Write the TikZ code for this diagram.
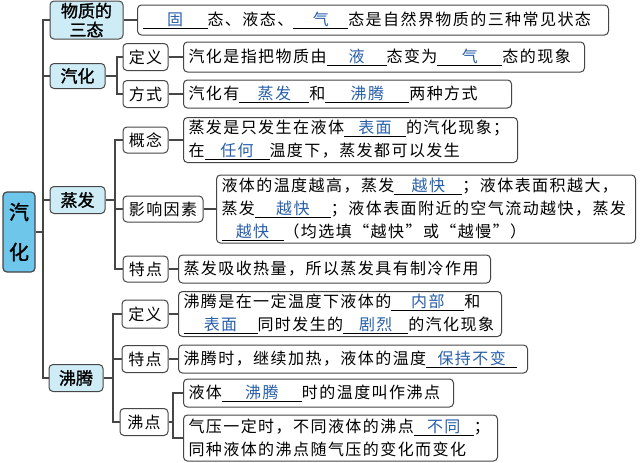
\documentclass[tikz,border=0pt]{standalone}
\usepackage{fontspec}
\newfontfamily\cjk[LetterSpace=9]{Noto Sans CJK SC}
\newfontfamily\cjkbf[FakeBold=1.5]{Noto Sans CJK SC}
\definecolor{boxline}{RGB}{70,70,70}
\definecolor{lvlone}{RGB}{205,236,246}
\definecolor{rootblue}{RGB}{110,198,235}
\definecolor{ansblue}{RGB}{40,95,170}
\newcommand\blank[2]{\leavevmode\mbox{\rlap{\rule[-3.5pt]{#1}{0.7pt}}\makebox[#1]{\color{ansblue}#2}}}

\begin{document}
\begin{tikzpicture}[x=1pt, y=-1pt,
  box/.style={draw=boxline, rounded corners=4pt, line width=1pt, inner sep=0pt},
  root/.style={box, fill=rootblue, line width=1.2pt, align=center,
               font=\cjkbf\fontsize{20}{40}\selectfont},
  lone/.style={box, fill=lvlone, align=center,
               font=\cjkbf\fontsize{17}{19}\selectfont},
  tag/.style={box, fill=white, font=\cjk\fontsize{16}{20}\selectfont},
  note/.style={box, fill=white, anchor=west, inner xsep=5pt, align=left,
               text width=#1, font=\cjk\fontsize{16}{23}\selectfont},
  link/.style={draw=boxline, line width=1.1pt}
]
\useasboundingbox (0,0) rectangle (640,463);

\node[root, minimum width=32pt, minimum height=80pt] (root) at (19,232) {汽\\化};
\coordinate (trunk) at (43,232);

\node[lone, minimum width=73pt, minimum height=38pt] (sw) at (86.5,20) {物质的\\三态};
\node[lone, minimum width=55pt, minimum height=25pt] (qh) at (77.5,76) {汽化};
\node[lone, minimum width=55pt, minimum height=27pt] (zf) at (77.5,200) {蒸发};
\node[lone, minimum width=54pt, minimum height=27pt] (ft) at (76,378) {沸腾};

\draw[link] (root) -- (trunk);
\draw[link] (trunk) |- (sw);
\draw[link] (trunk) |- (qh);
\draw[link] (trunk) |- (zf);
\draw[link] (trunk) |- (ft);

\node[note=461pt, minimum height=30pt] (swt) at (137,20)
  {\blank{65pt}{固}态、液态、\blank{55pt}{气}态是自然界物质的三种常见状态};
\draw[link] (sw) -- (swt);

\coordinate (qhj) at (117,76);
\node[tag, minimum width=45pt, minimum height=27pt] (qhdy) at (145.5,57) {定义};
\node[tag, minimum width=45pt, minimum height=27pt] (qhfs) at (145.5,94) {方式};
\node[note=391pt, minimum height=30pt] (qhdyt) at (183,57)
  {汽化是指把物质由\blank{60pt}{液}态变为\blank{65pt}{气}态的现象};
\node[note=318pt, minimum height=28pt] (qhfst) at (183,94)
  {汽化有\blank{70pt}{蒸发}和\blank{84pt}{沸腾}两种方式};
\draw[link] (qh) -- (qhj);
\draw[link] (qhj) |- (qhdy);
\draw[link] (qhj) |- (qhfs);
\draw[link] (qhdy) -- (qhdyt);
\draw[link] (qhfs) -- (qhfst);

\coordinate (zfj) at (115,200);
\node[tag, minimum width=45pt, minimum height=26pt] (zfgn) at (145.5,140) {概念};
\node[tag, minimum width=80pt, minimum height=26pt] (zfyx) at (163,209) {影响因素};
\node[tag, minimum width=45pt, minimum height=26pt] (zftd) at (145.5,269) {特点};
\node[note=324pt, minimum height=45pt] (zfgnt) at (183,140)
  {蒸发是只发生在液体\blank{62pt}{表面}的汽化现象；\\
   在\blank{65pt}{任何}温度下，蒸发都可以发生};
\node[note=409pt, minimum height=68pt] (zfyxt) at (216,209)
  {液体的温度越高，蒸发\blank{68pt}{越快}；液体表面积越大，\\
   蒸发\blank{76pt}{越快}；液体表面附近的空气流动越快，蒸发\\
   \blank{62pt}{越快}（均选填“越快”或“越慢”）};
\node[note=302pt, minimum height=28pt] (zftdt) at (178,269)
  {蒸发吸收热量，所以蒸发具有制冷作用};
\draw[link] (zf) -- (zfj);
\draw[link] (zfj) |- (zfgn);
\draw[link] (zfj) |- (zfyx);
\draw[link] (zfj) |- (zftd);
\draw[link] (zfgn) -- (zfgnt);
\draw[link] (zfyx) -- (zfyxt);
\draw[link] (zftd) -- (zftdt);

\coordinate (ftj) at (113,378);
\node[tag, minimum width=46pt, minimum height=28pt] (ftdy) at (145,314) {定义};
\node[tag, minimum width=46pt, minimum height=27pt] (fttd) at (145,359) {特点};
\node[tag, minimum width=48pt, minimum height=27pt] (ftfd) at (144,422) {沸点};
\node[note=313pt, minimum height=45pt] (ftdyt) at (178,314)
  {沸腾是在一定温度下液体的\blank{73pt}{内部}和\\
   \blank{74pt}{表面}同时发生的\blank{65pt}{剧烈}的汽化现象};
\node[note=339pt, minimum height=28pt] (fttdt) at (178,359)
  {沸腾时，继续加热，液体的温度\blank{91pt}{保持不变}};
\draw[link] (ft) -- (ftj);
\draw[link] (ftj) |- (ftdy);
\draw[link] (ftj) |- (fttd);
\draw[link] (ftj) |- (ftfd);
\draw[link] (ftdy) -- (ftdyt);
\draw[link] (fttd) -- (fttdt);

\coordinate (fdj) at (173,422);
\node[note=260pt, minimum height=28pt] (fdone) at (183,393)
  {液体\blank{80pt}{沸腾}时的温度叫作沸点};
\node[note=304pt, minimum height=46pt] (fdtwo) at (183,438)
  {气压一定时，不同液体的沸点\blank{60pt}{不同}；\\
   同种液体的沸点随气压的变化而变化};
\draw[link] (ftfd) -- (fdj);
\draw[link] (fdj) |- (fdone);
\draw[link] (fdj) |- (fdtwo);
\end{tikzpicture}
\end{document}
